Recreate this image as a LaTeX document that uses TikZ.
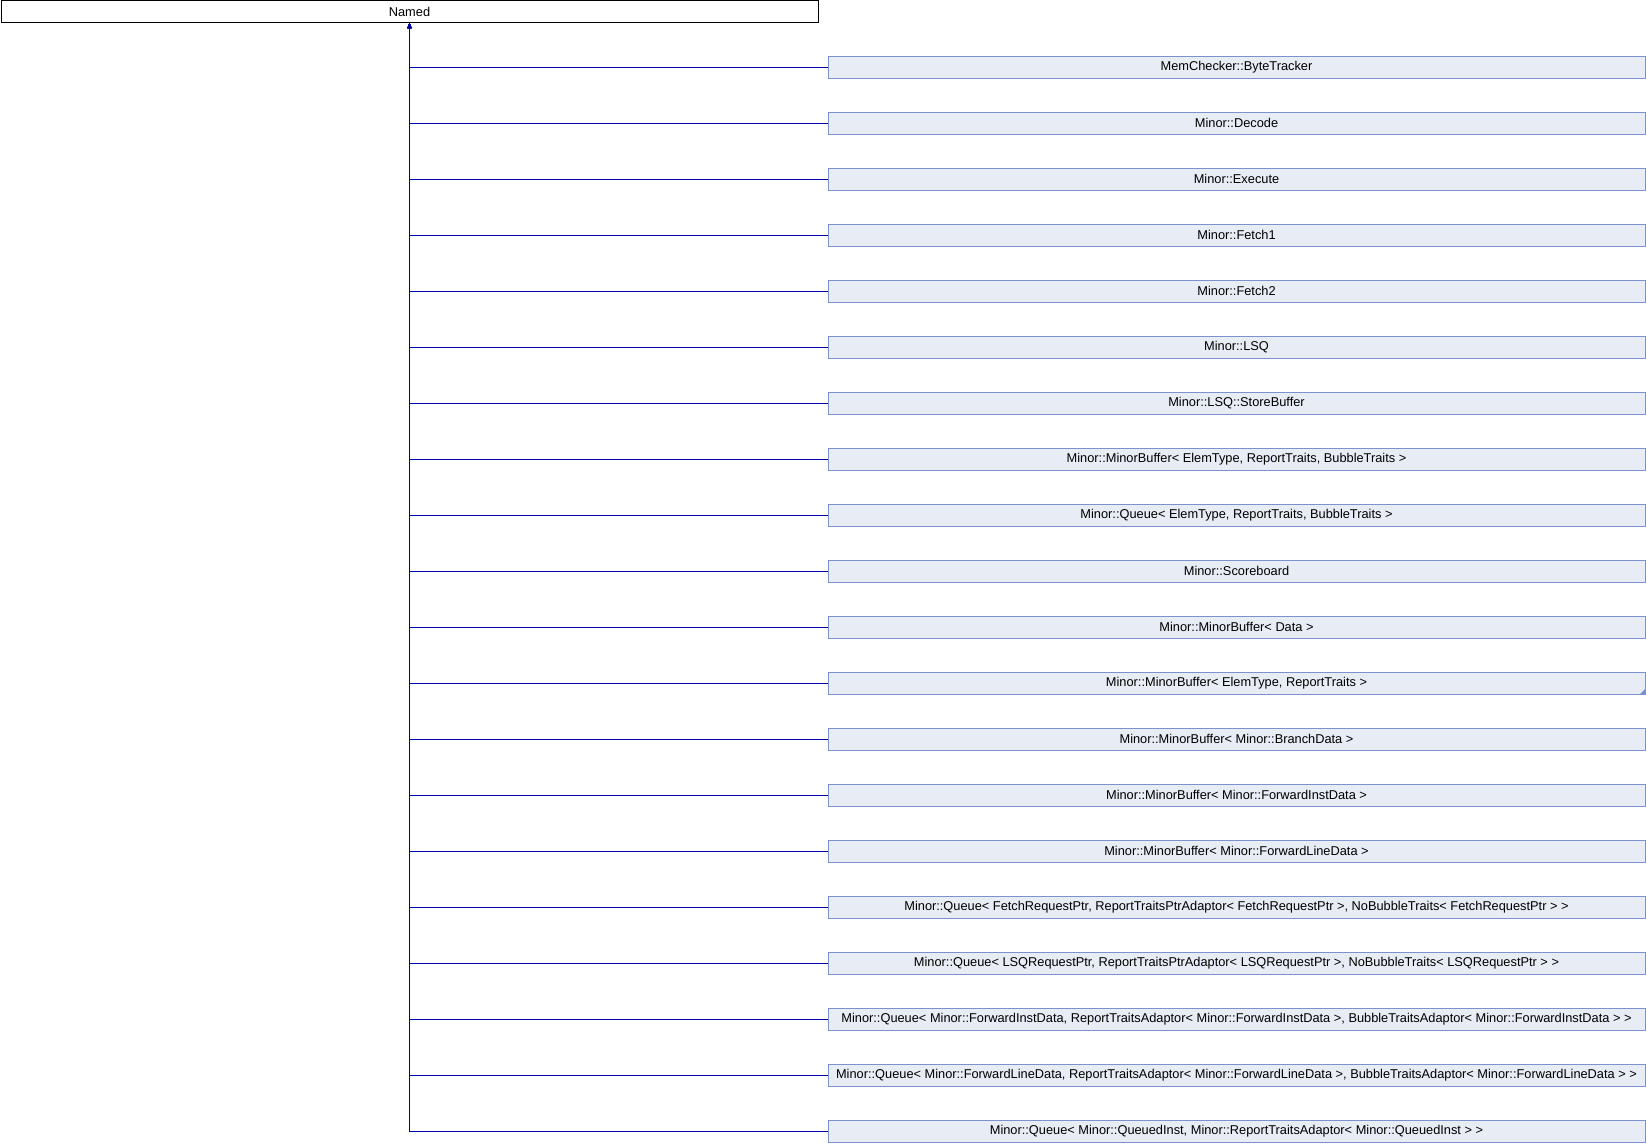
\documentclass[tikz,border=0pt]{standalone}
\usepackage{fontspec}
\setmainfont{Liberation Sans}
\usepackage{tikz}
\usetikzlibrary{
    positioning,
    arrows.meta
}
\definecolor{linea}{RGB}{0,0,160}
\definecolor{relleno}{RGB}{232,236,245}
\definecolor{borde}{RGB}{122,146,206}
\tikzset{
    >={Triangle[length=5pt,width=4pt]},
    base/.style={
        draw=black,
        fill=white,
        line width=1pt,
        minimum width=817pt,
        minimum height=22pt,
        inner sep=0pt,
        font=\fontsize{12.8}{15}\selectfont
    },
    clase/.style={
        base,
        draw=borde,
        fill=relleno
    },
    herencia/.style={
        ->,
        draw=linea,
        line width=1pt,
        to path={(\tikztostart.west) -| (\tikztotarget.south)}
    }
}

\begin{document}
\begin{tikzpicture}[
    x=1pt,
    y=-1pt
]
    \useasboundingbox (0,0) rectangle (1646,1144);

    % Base
    \node[base] (named) at (409.5,11.5) {Named};

    % Clases
    \node[clase] (c01) at (1236.5,67)   {MemChecker::ByteTracker};
    \node[clase] (c02) at (1236.5,123)  {Minor::Decode};
    \node[clase] (c03) at (1236.5,179)  {Minor::Execute};
    \node[clase] (c04) at (1236.5,235)  {Minor::Fetch1};
    \node[clase] (c05) at (1236.5,291)  {Minor::Fetch2};
    \node[clase] (c06) at (1236.5,347)  {Minor::LSQ};
    \node[clase] (c07) at (1236.5,403)  {Minor::LSQ::StoreBuffer};
    \node[clase] (c08) at (1236.5,459)  {Minor::MinorBuffer< ElemType, ReportTraits, BubbleTraits >};
    \node[clase] (c09) at (1236.5,515)  {Minor::Queue< ElemType, ReportTraits, BubbleTraits >};
    \node[clase] (c10) at (1236.5,571)  {Minor::Scoreboard};
    \node[clase] (c11) at (1236.5,627)  {Minor::MinorBuffer< Data >};
    \node[clase] (c12) at (1236.5,683)  {Minor::MinorBuffer< ElemType, ReportTraits >};
    \node[clase] (c13) at (1236.5,739)  {Minor::MinorBuffer< Minor::BranchData >};
    \node[clase] (c14) at (1236.5,795)  {Minor::MinorBuffer< Minor::ForwardInstData >};
    \node[clase] (c15) at (1236.5,851)  {Minor::MinorBuffer< Minor::ForwardLineData >};
    \node[clase] (c16) at (1236.5,907)  {Minor::Queue< FetchRequestPtr, ReportTraitsPtrAdaptor< FetchRequestPtr >, NoBubbleTraits< FetchRequestPtr > >};
    \node[clase] (c17) at (1236.5,963)  {Minor::Queue< LSQRequestPtr, ReportTraitsPtrAdaptor< LSQRequestPtr >, NoBubbleTraits< LSQRequestPtr > >};
    \node[clase] (c18) at (1236.5,1019) {Minor::Queue< Minor::ForwardInstData, ReportTraitsAdaptor< Minor::ForwardInstData >, BubbleTraitsAdaptor< Minor::ForwardInstData > >};
    \node[clase] (c19) at (1236.5,1075) {Minor::Queue< Minor::ForwardLineData, ReportTraitsAdaptor< Minor::ForwardLineData >, BubbleTraitsAdaptor< Minor::ForwardLineData > >};
    \node[clase] (c20) at (1236.5,1131) {Minor::Queue< Minor::QueuedInst, Minor::ReportTraitsAdaptor< Minor::QueuedInst > >};

    % Marca de clase truncada
    \fill[borde] (c12.south east) -- ++(-6,0) -- ++(6,-6) -- cycle;

    % Herencia
    \path
        (c01) edge[herencia] (named)
        (c02) edge[herencia] (named)
        (c03) edge[herencia] (named)
        (c04) edge[herencia] (named)
        (c05) edge[herencia] (named)
        (c06) edge[herencia] (named)
        (c07) edge[herencia] (named)
        (c08) edge[herencia] (named)
        (c09) edge[herencia] (named)
        (c10) edge[herencia] (named)
        (c11) edge[herencia] (named)
        (c12) edge[herencia] (named)
        (c13) edge[herencia] (named)
        (c14) edge[herencia] (named)
        (c15) edge[herencia] (named)
        (c16) edge[herencia] (named)
        (c17) edge[herencia] (named)
        (c18) edge[herencia] (named)
        (c19) edge[herencia] (named)
        (c20) edge[herencia] (named);

\end{tikzpicture}
\end{document}
